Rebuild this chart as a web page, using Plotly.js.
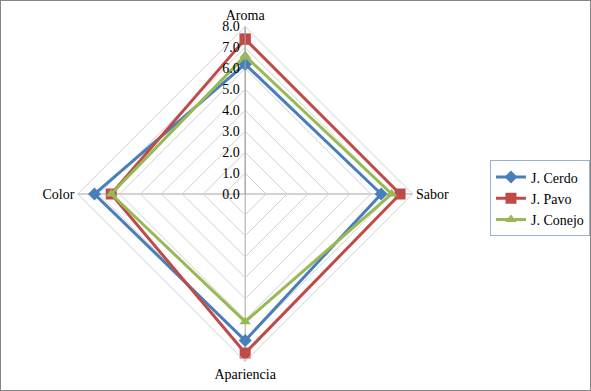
<!DOCTYPE html>
<html><head><meta charset="utf-8">
<script src="https://cdn.plot.ly/plotly-3.0.1.min.js"></script>
<style>html,body{margin:0;padding:0;background:#fff}#chart{width:589px;height:389px;border:1px solid #868686}</style>
</head><body><div id="chart"></div>
<script>
var categories = ["Aroma", "Sabor", "Apariencia", "Color"];
var seriesNames = ["J. Cerdo", "J. Pavo", "J. Conejo"];
var cerdo = [6.2, 6.5, 7.0, 7.2];
var pavo = [7.4, 7.4, 7.6, 6.4];
var conejo = [6.6, 7.0, 6.1, 6.4];
var radialTicks = [0, 1, 2, 3, 4, 5, 6, 7, 8];

var colors = ["#4A7EBB", "#BE4B48", "#98B954"];
var symbols = ["diamond", "square", "triangle-up"];
var sizes = [10, 11, 10];
var values = [cerdo, pavo, conejo];
var traces = values.map(function (v, i) {
  return {
    type: "scatterpolar",
    r: v.concat([v[0]]),
    theta: categories.concat([categories[0]]),
    mode: "lines+markers",
    name: seriesNames[i],
    line: {color: colors[i], width: 3},
    marker: {symbol: symbols[i], size: sizes[i], color: colors[i]}
  };
});
var layout = {
  width: 589, height: 389,
  margin: {l: 0, r: 0, t: 0, b: 0},
  paper_bgcolor: "#fff",
  font: {family: "Liberation Serif", size: 14, color: "#000"},
  showlegend: true,
  legend: {x: 0.833, y: 0.59, xanchor: "left", yanchor: "top", bordercolor: "#95B3D7", borderwidth: 1,
           font: {size: 14}, tracegroupgap: 0, itemwidth: 30},
  polar: {
    domain: {x: [0.1307, 0.7012], y: [0.0720, 0.9357]},
    gridshape: "linear",
    bgcolor: "#fff",
    radialaxis: {range: [0, 8], tickvals: radialTicks, tickformat: ".1f", angle: 90, tickangle: 90,
                 showline: true, linecolor: "#A6A6A6", gridcolor: "#D0D0D0", ticks: "",
                 side: "counterclockwise", tickfont: {size: 14}},
    angularaxis: {rotation: 90, direction: "clockwise", linecolor: "#D0D0D0", gridcolor: "#A6A6A6",
                  showline: true, ticks: "", tickfont: {size: 14}}
  }
};
Plotly.newPlot("chart", traces, layout, {displayModeBar: false});
</script></body></html>
